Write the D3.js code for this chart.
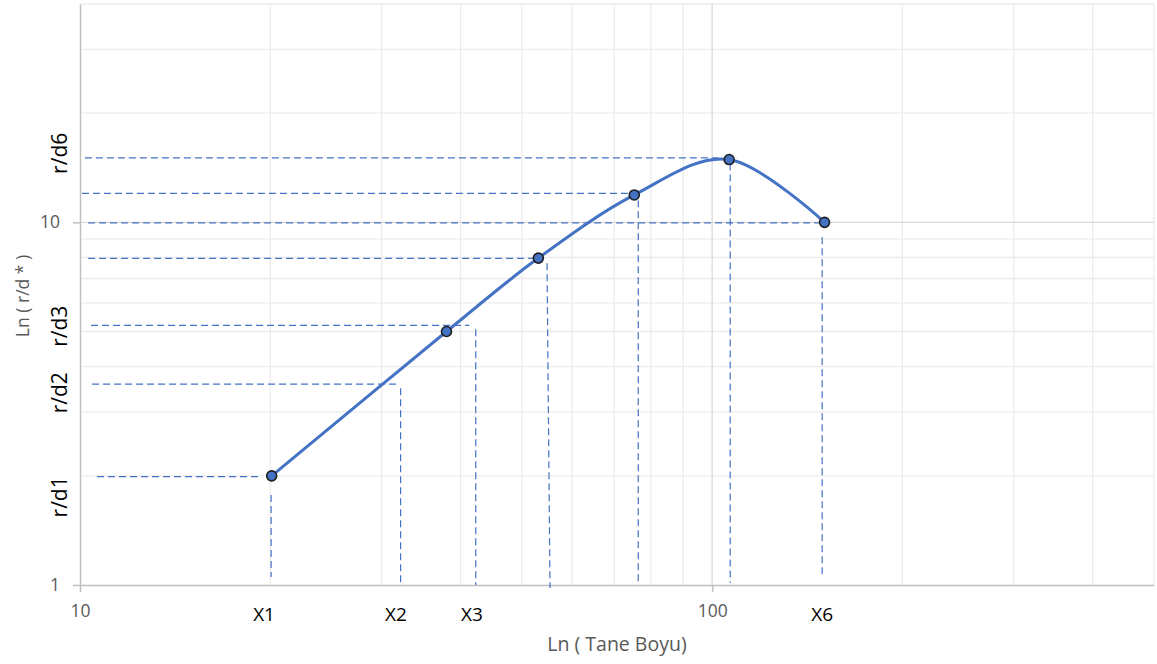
<!DOCTYPE html>
<html>
<head>
<meta charset="utf-8">
<script src="https://cdn.jsdelivr.net/npm/d3@7"></script>
<style>
  body { margin: 0; background: #fff; }
  svg { display: block; font-family: "Open Sans", sans-serif; }
</style>
</head>
<body>
<script>
// data (log-log chart)
var xTicks = [10, 100];
var yTicks = [1, 10];
var xGrid = [20, 30, 40, 50, 60, 70, 80, 90, 200, 300, 400, 500];
var yGrid = [2, 3, 4, 5, 6, 7, 8, 9, 20, 30, 40];

var pointsX = [20.1, 38, 53.1, 75.3, 106.4, 150.6];
var pointsY = [2.0, 5.0, 7.97, 11.9, 14.9, 10];

// dashed guide lines: [x1, y1, x2, y2]
var guides = [
  [10.18, 15.06, 102.2, 15.06],
  [10.07, 12.02, 75, 12.02],
  [10.3, 9.97, 150.4, 9.97],
  [10.3, 7.96, 52.8, 7.96],
  [10.41, 5.2, 41.3, 5.2],
  [10.45, 3.58, 31.97, 3.58],
  [10.64, 1.99, 19.41, 1.99],
  [20.06, 1.77, 20.06, 1.052],
  [32.15, 3.49, 32.15, 1],
  [42.27, 5.07, 42.27, 1],
  [54.8, 7.71, 55.4, 0.981],
  [76.4, 11.5, 76.4, 1],
  [106.8, 14.54, 106.8, 1.013],
  [149.3, 9.09, 149.3, 1.045]
];

var xLabels = ['X1', 'X2', 'X3', 'X6'];
var xLabelAt = [19.55, 31.6, 41.7, 149.3];
var yLabels = ['r/d1', 'r/d2', 'r/d3', 'r/d6'];
var yLabelAt = [1.75, 3.39, 5.17, 15.5];

var width = 1157, height = 664;
var plotLeft = 80, plotRight = 1154, plotTop = 4, plotBottom = 585;

var svg = d3.select('body').append('svg')
  .attr('width', width)
  .attr('height', height);

var x = d3.scaleLog().domain([10, 500]).range([plotLeft, plotRight]);
var y = d3.scaleLog().domain([1, 40]).range([plotBottom, plotTop]);

// minor grid
svg.append('g').selectAll('line')
  .data(xGrid)
  .join('line')
    .attr('x1', d => x(d)).attr('x2', d => x(d))
    .attr('y1', plotTop).attr('y2', plotBottom)
    .attr('stroke', '#ececec').attr('stroke-width', 1.3);

svg.append('g').selectAll('line')
  .data(yGrid)
  .join('line')
    .attr('x1', plotLeft).attr('x2', plotRight)
    .attr('y1', d => y(d)).attr('y2', d => y(d))
    .attr('stroke', '#ececec').attr('stroke-width', 1.3);

// major grid (10 and 100)
svg.append('line')
  .attr('x1', x(100)).attr('x2', x(100))
  .attr('y1', plotTop).attr('y2', plotBottom)
  .attr('stroke', '#d9d9d9').attr('stroke-width', 1.3);
svg.append('line')
  .attr('x1', plotLeft).attr('x2', plotRight)
  .attr('y1', y(10)).attr('y2', y(10))
  .attr('stroke', '#d9d9d9').attr('stroke-width', 1.3);

// axes
var xAxis = svg.append('g')
  .attr('transform', 'translate(0,' + plotBottom + ')')
  .call(d3.axisBottom(x).tickValues(xTicks).tickFormat(d3.format('d'))
    .tickSize(7).tickSizeOuter(0).tickPadding(13));

var yAxis = svg.append('g')
  .attr('transform', 'translate(' + plotLeft + ',0)')
  .call(d3.axisLeft(y).tickValues(yTicks).tickFormat(d3.format('d'))
    .tickSize(7).tickSizeOuter(0).tickPadding(13));

[xAxis, yAxis].forEach(g => {
  g.select('.domain').attr('stroke', '#bfbfbf').attr('stroke-width', 1.5);
  g.selectAll('.tick line').attr('stroke', '#bfbfbf').attr('stroke-width', 1.5);
  g.selectAll('.tick text')
    .attr('fill', '#595959')
    .style('font-size', '17.5px')
    .style('font-family', '"Open Sans", sans-serif');
});

// dashed guides
svg.append('g').selectAll('line')
  .data(guides)
  .join('line')
    .attr('x1', d => x(d[0])).attr('y1', d => y(d[1]))
    .attr('x2', d => x(d[2])).attr('y2', d => y(d[3]))
    .attr('stroke', '#4472c4')
    .attr('stroke-width', 1.2)
    .attr('stroke-dasharray', '7,4');

// smoothed series
var pts = pointsX.map((v, i) => [v, pointsY[i]]);
var line = d3.line()
  .x(d => x(d[0]))
  .y(d => y(d[1]))
  .curve(d3.curveCardinal.tension(0));

svg.append('path')
  .datum(pts)
  .attr('d', line)
  .attr('fill', 'none')
  .attr('stroke', '#4472c4')
  .attr('stroke-width', 3)
  .attr('stroke-linecap', 'round');

svg.append('g').selectAll('circle')
  .data(pts)
  .join('circle')
    .attr('cx', d => x(d[0]))
    .attr('cy', d => y(d[1]))
    .attr('r', 5)
    .attr('fill', '#4472c4')
    .attr('stroke', '#1f1f1f')
    .attr('stroke-width', 1.6);

// category labels
svg.append('g').selectAll('text')
  .data(xLabels)
  .join('text')
    .attr('x', (d, i) => x(xLabelAt[i]))
    .attr('y', 621)
    .attr('text-anchor', 'middle')
    .attr('fill', '#000')
    .style('font-size', '19px')
    .text(d => d);

svg.append('g').selectAll('text')
  .data(yLabels)
  .join('text')
    .attr('transform', (d, i) => 'translate(67,' + y(yLabelAt[i]) + ') rotate(-90)')
    .attr('text-anchor', 'middle')
    .attr('fill', '#000')
    .style('font-size', '21px')
    .text(d => d);

// axis titles
svg.append('text')
  .attr('x', 617).attr('y', 651)
  .attr('text-anchor', 'middle')
  .attr('fill', '#595959')
  .style('font-size', '19.5px')
  .text('Ln ( Tane Boyu)');

svg.append('text')
  .attr('transform', 'translate(29,296) rotate(-90)')
  .attr('text-anchor', 'middle')
  .attr('fill', '#595959')
  .style('font-size', '17.5px')
  .text('Ln ( r/d * )');
</script>
</body>
</html>
